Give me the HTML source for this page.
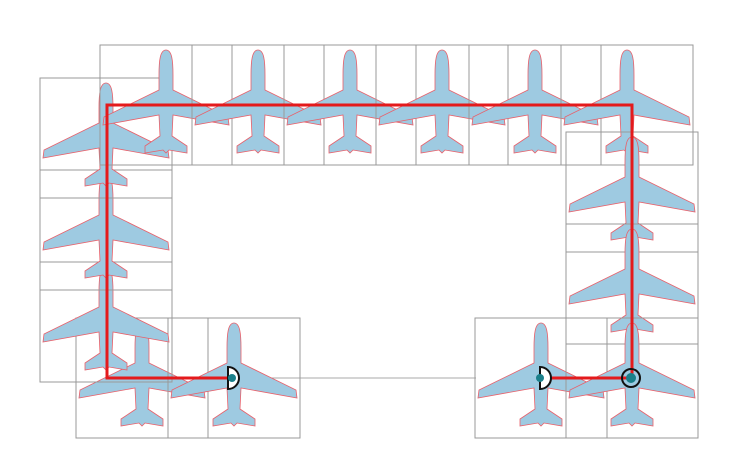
<!DOCTYPE html>
<html><head><meta charset="utf-8"><style>body{margin:0;background:#fff}svg{display:block}</style></head><body>
<svg width="736" height="476" viewBox="0 0 736 476" xmlns="http://www.w3.org/2000/svg">
<defs>
<path id="p" d="M0,-55 C6,-55 7,-44 7,-30 L7,-15 L62,12 L63,20 L7,10 L6,31 L21,41 L21,48 L3,45 L0,48 L-3,45 L-21,48 L-21,41 L-6,31 L-7,10 L-63,20 L-62,12 L-7,-15 L-7,-30 C-7,-44 -6,-55 0,-55Z" fill="#9ecae1" stroke="#e8606a" stroke-width="0.8"/>
</defs>
<line x1="172" y1="378" x2="476" y2="378" stroke="#aaa" stroke-width="1"/>
<g fill="none" stroke="#999">
<rect x="76" y="318" width="132" height="120"/><use href="#p" x="142" y="378"/>
<rect x="168" y="318" width="132" height="120"/><use href="#p" x="234" y="378"/>
<rect x="40" y="262" width="132" height="120"/><use href="#p" x="106" y="322"/>
<rect x="40" y="170" width="132" height="120"/><use href="#p" x="106" y="230"/>
<rect x="40" y="78" width="132" height="120"/><use href="#p" x="106" y="138"/>
<rect x="100" y="45" width="132" height="120"/><use href="#p" x="166" y="105"/>
<rect x="192" y="45" width="132" height="120"/><use href="#p" x="258" y="105"/>
<rect x="284" y="45" width="132" height="120"/><use href="#p" x="350" y="105"/>
<rect x="376" y="45" width="132" height="120"/><use href="#p" x="442" y="105"/>
<rect x="469" y="45" width="132" height="120"/><use href="#p" x="535" y="105"/>
<rect x="561" y="45" width="132" height="120"/><use href="#p" x="627" y="105"/>
<rect x="566" y="132" width="132" height="120"/><use href="#p" x="632" y="192"/>
<rect x="566" y="224" width="132" height="120"/><use href="#p" x="632" y="284"/>
<rect x="475" y="318" width="132" height="120"/><use href="#p" x="541" y="378"/>
<rect x="566" y="318" width="132" height="120"/><use href="#p" x="632" y="378"/>
</g>
<polyline points="232,378 107,378 107,105 632,105 632,378 545,378" fill="none" stroke="#e41a1c" stroke-width="3"/>
<path d="M228,367 A11,11 0 0 1 228,389 Z" fill="#fff" stroke="#111" stroke-width="2"/>
<circle cx="232" cy="378" r="4" fill="#1a7f8a"/>
<path d="M540,367 A11,11 0 0 1 540,389 Z" fill="#fff" stroke="#111" stroke-width="2"/>
<circle cx="540" cy="378" r="4" fill="#1a7f8a"/>
<circle cx="631" cy="378" r="9" fill="none" stroke="#111" stroke-width="2"/>
<circle cx="631" cy="378" r="5" fill="#1a7f8a"/>
</svg>
</body></html>
